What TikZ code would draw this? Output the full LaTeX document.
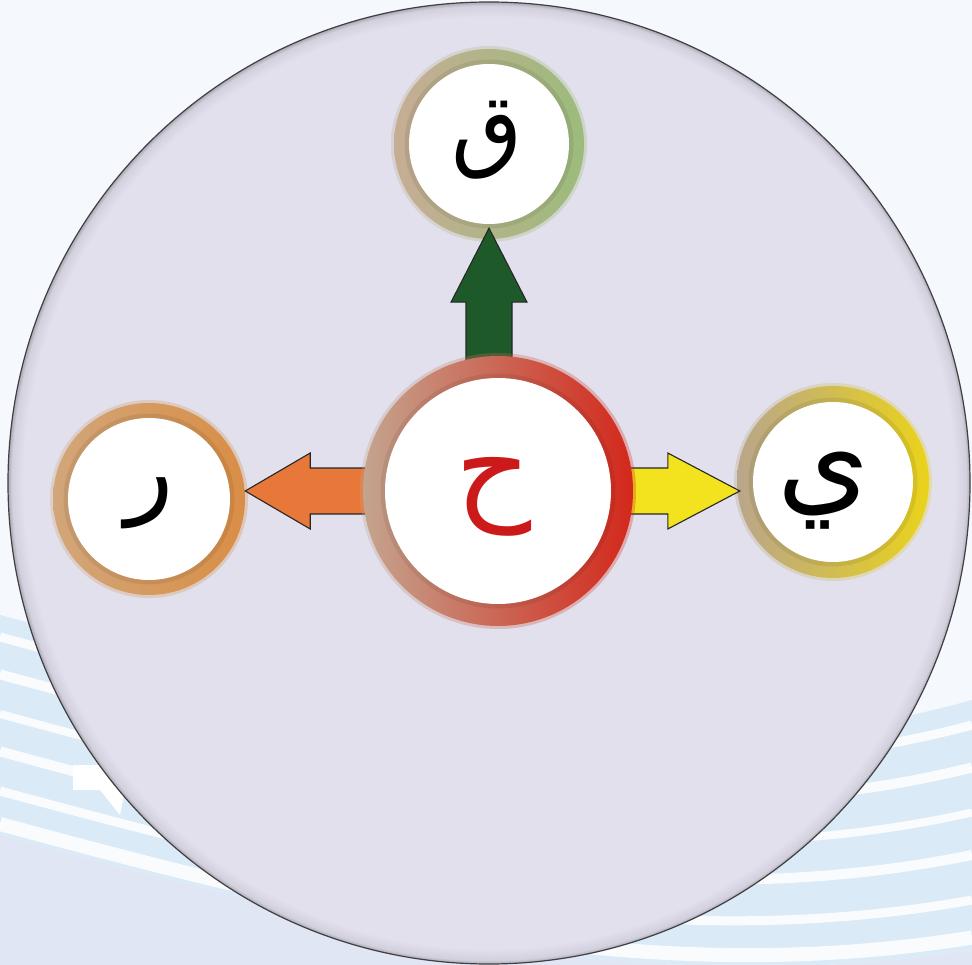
\documentclass[tikz,border=0pt]{standalone}
\usepackage{fontspec}
\newfontfamily\arabicfont[Script=Arabic]{DejaVu Sans}
\TeXXeTstate=1
\usetikzlibrary{calc}
\definecolor{bgwhite}{HTML}{F5F8FC}
\definecolor{bglav}{HTML}{E0E6F4}
\definecolor{bandblue}{HTML}{DAEAF7}
\definecolor{discin}{HTML}{E1E0EC}
\definecolor{discmid}{HTML}{D2D0DC}
\definecolor{discrim}{HTML}{ABA9B7}
\definecolor{tanA}{HTML}{C6AD95}
\definecolor{tanB}{HTML}{BDB294}
\definecolor{greenR}{HTML}{9CBB7B}
\definecolor{tanC}{HTML}{C4A48E}
\definecolor{salmon}{HTML}{D3795F}
\definecolor{redR}{HTML}{D3281B}
\definecolor{tanL}{HTML}{D2A67A}
\definecolor{orangeR}{HTML}{D98E46}
\definecolor{tanY}{HTML}{B9A68A}
\definecolor{yellowR}{HTML}{EAD31A}
\definecolor{greenArrow}{HTML}{1E5A29}
\definecolor{orangeArrow}{HTML}{E8783A}
\definecolor{yellowArrow}{HTML}{F3E31E}
\definecolor{letterRed}{HTML}{CC1A1A}
\pgfdeclareradialshading{bigdisc}{\pgfpoint{0bp}{0bp}}{color(0bp)=(discin); color(24.2bp)=(discin); color(24.8bp)=(discmid); color(25bp)=(discrim); color(50bp)=(discrim)}
\pgfdeclarelayer{background}
\pgfdeclarelayer{front}
\pgfsetlayers{background,main,front}
\begin{document}
\begin{tikzpicture}[x=1pt,y=-1pt,
  blockarrow/.style={draw=black!85, line width=1.1pt, line join=miter},
  ringouter/.style={circle, inner sep=0pt, minimum size=#1},
  whitedisc/.style={circle, inner sep=0pt, minimum size=#1, fill=white},
  letter/.style={inner sep=0pt, font=\arabicfont\fontsize{#1}{#1}\selectfont},
  halo/.style={opacity=0.3},
  innershadow/.style={black, opacity=0.07, line width=5pt}]
\useasboundingbox (0,0) rectangle (972,965);
\begin{pgfonlayer}{background}
% background with streaks
\fill[bgwhite] (0,0) rectangle (972,965);
\fill[bglav] (0,835) .. controls (350,930) and (650,1000) .. (972,950) -- (972,965) -- (0,965) -- cycle;
\fill[bandblue] (0,615) .. controls (350,710) and (650,790) .. (972,700) -- (972,950) .. controls (650,1000) and (350,930) .. (0,835) -- cycle;
\foreach \t/\w in {0.1/9, 0.27/10, 0.45/8, 0.62/10, 0.8/9, 0.95/14}
  \draw[white, opacity=0.85, line width=\w pt] (0,615+220*\t) .. controls (350,710+220*\t) and (650,790+210*\t) .. (972,700+250*\t);
\fill[white] (73,765) -- (100,765) -- (125,790) -- (120,815) -- (100,790) -- (73,790) -- cycle;
% big disc
\node[circle, inner sep=0pt, minimum size=962pt, shade, shading=bigdisc, draw=black!75, line width=1.2pt] (disc) at (489,483) {};
\end{pgfonlayer}

% outer nodes
\shade[halo, left color=tanA, right color=greenR] (489,144) circle (98pt);
\node[ringouter=190pt, left color=tanA, middle color=tanB, right color=greenR] (q) at (489,144) {};
\draw[innershadow] (q.center) circle (82pt);
\node[whitedisc=160pt] (qin) at (q.center) {};
\node[letter=92] (qt) at ($(q.center)+(-2,-4)$) {\beginR ق\endR};

\shade[halo, left color=tanL, right color=orangeR] (149,499) circle (99pt);
\node[ringouter=192pt, left color=tanL, right color=orangeR] (l) at (149,499) {};
\draw[innershadow] (l.center) circle (83pt);
\node[whitedisc=162pt] (lin) at (l.center) {};
\node[letter=100] (lt) at ($(l.center)+(1,4)$) {\beginR ر\endR};

\shade[halo, left color=tanY, right color=yellowR] (833,482) circle (99pt);
\node[ringouter=192pt, left color=tanY, right color=yellowR] (r) at (833,482) {};
\draw[innershadow] (r.center) circle (82pt);
\node[whitedisc=160pt] (rin) at (r.center) {};
\node[letter=118] (rt) at ($(r.center)+(-9,9)$) {\beginR ي\endR};

% center node
\begin{pgfonlayer}{front}
\shade[halo, left color=tanC, right color=redR] (498,491) circle (138pt);
\node[ringouter=270pt, left color=tanC, middle color=salmon, right color=redR] (c) at (498,491) {};
\draw[innershadow] (c.center) circle (115pt);
\node[whitedisc=226pt] (cin) at (c.center) {};
\node[letter=118, text=letterRed] (ct) at ($(c.center)+(-4,6)$) {\beginR ح\endR};
\end{pgfonlayer}

% arrows
\coordinate (upTip) at ($(q.south)+(0,-11)$);
\coordinate (upBase) at (q.center |- c.center);
\draw[blockarrow, fill=greenArrow] ($(upBase)+(-23,0)$) -- ($(upTip)+(-23,74)$) -- ($(upTip)+(-38,74)$) -- (upTip) -- ($(upTip)+(38,74)$) -- ($(upTip)+(23,74)$) -- ($(upBase)+(23,0)$) -- cycle;

\coordinate (lfTip) at (l.east |- c.center);
\draw[blockarrow, fill=orangeArrow] ($(c.center)+(0,-23)$) -- ($(lfTip)+(65,-23)$) -- ($(lfTip)+(65,-38)$) -- (lfTip) -- ($(lfTip)+(65,38)$) -- ($(lfTip)+(65,23)$) -- ($(c.center)+(0,23)$) -- cycle;

\coordinate (rtTip) at ($(r.west |- c.center)+(3,0)$);
\draw[blockarrow, fill=yellowArrow] ($(c.center)+(0,-23)$) -- ($(rtTip)+(-72,-23)$) -- ($(rtTip)+(-72,-38)$) -- (rtTip) -- ($(rtTip)+(-72,38)$) -- ($(rtTip)+(-72,23)$) -- ($(c.center)+(0,23)$) -- cycle;
\end{tikzpicture}
\end{document}
